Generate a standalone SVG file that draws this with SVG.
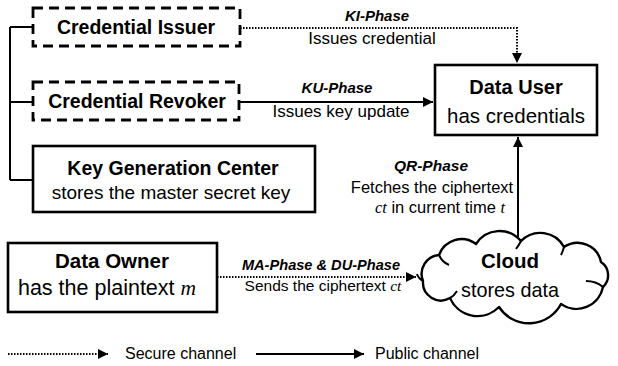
<svg xmlns="http://www.w3.org/2000/svg" width="618" height="366" viewBox="0 0 618 366">
<style>
.box{fill:#fff;stroke:#000;stroke-width:2.6}
.dbox{fill:#fff;stroke:#000;stroke-width:2.8;stroke-dasharray:10 6}
.t{font-family:"Liberation Sans",Arial,sans-serif;fill:#000;text-anchor:middle}
.b{font-weight:bold}
.ph{font-weight:bold;font-style:italic}
.m{font-family:"Liberation Serif","Times New Roman",serif;font-style:italic}
.solid{fill:none;stroke:#000;stroke-width:2}
.dot{fill:none;stroke:#000;stroke-width:2;stroke-dasharray:1.5 1.5}
</style>
<defs>
<marker id="ah" viewBox="0 0 10 10" refX="10" refY="5" markerWidth="5" markerHeight="5" orient="auto" markerUnits="strokeWidth">
<path d="M0,0 L10,5 L0,10 z" fill="#000"/>
</marker>
</defs>

<g id="connectors">
<path class="solid" d="M10,27 V180 M10,27 H33 M10,102 H33 M10,180 H33"/>
<path class="dot" d="M240,28 H517 V63" marker-end="url(#ah)"/>
<path class="solid" d="M240,102 H433" marker-end="url(#ah)"/>
<path class="solid" d="M518,237 V137" marker-end="url(#ah)"/>
<path class="dot" d="M217,277 H416" marker-end="url(#ah)"/>
</g>

<g id="credential-issuer">
<rect class="dbox" x="33" y="8" width="207" height="38"/>
<text class="t b" x="136" y="34" font-size="19.5">Credential Issuer</text>
</g>

<g id="credential-revoker">
<rect class="dbox" x="33" y="82" width="206" height="38"/>
<text class="t b" x="137" y="108" font-size="19.5">Credential Revoker</text>
</g>

<g id="key-generation-center">
<rect class="box" x="33" y="146" width="282" height="66"/>
<text class="t b" x="173" y="175" font-size="19.5">Key Generation Center</text>
<text class="t" x="171" y="199" font-size="19">stores the master secret key</text>
</g>

<g id="data-user">
<rect class="box" x="435" y="65" width="162" height="70"/>
<text class="t b" x="516" y="94" font-size="20">Data User</text>
<text class="t" x="516" y="123" font-size="20.5">has credentials</text>
</g>

<g id="data-owner">
<rect class="box" x="8" y="243" width="209" height="69"/>
<text class="t b" x="112" y="268" font-size="20.5">Data Owner</text>
<text class="t" x="107" y="295" font-size="21.5">has the plaintext <tspan class="m">m</tspan></text>
</g>

<g id="cloud">
<path fill="#fff" stroke="#000" stroke-width="2.4" stroke-linejoin="round" d="M423,281 A19,19 0 0 1 439,255 A24,24 0 0 1 476,244 A28,28 0 0 1 521,241 A27,27 0 0 1 564,247 A24,24 0 0 1 601,262 A16,16 0 0 1 603,287 A27,27 0 0 1 561,304 A36,36 0 0 1 499,307 A30,30 0 0 1 450,298 A18,18 0 0 1 423,281 Z"/>
<path fill="none" stroke="#000" stroke-width="2" d="M439,255 Q442,262 449,265 M521,241 Q519,245 516,249 M564,247 Q563,251 561,255 M586,281 Q596,281 603,287 M450,298 Q454,296 457,291 M423,281 Q418,278 417,274"/>
<text class="t b" x="510" y="268" font-size="20.5">Cloud</text>
<text class="t" x="510" y="297" font-size="19.8">stores data</text>
</g>

<g id="labels">
<text class="t ph" x="377" y="21" font-size="15">KI-Phase</text>
<text class="t" x="372" y="44" font-size="17">Issues credential</text>
<text class="t ph" x="337" y="93" font-size="15">KU-Phase</text>
<text class="t" x="341" y="117" font-size="17">Issues key update</text>
<text class="t ph" x="431" y="171" font-size="15.5">QR-Phase</text>
<text class="t" x="432" y="193" font-size="16.5">Fetches the ciphertext</text>
<text class="t" x="440" y="213" font-size="16.5"><tspan class="m">ct</tspan> in current time <tspan class="m">t</tspan></text>
<text class="t ph" x="321" y="270" font-size="14.6">MA-Phase &amp; DU-Phase</text>
<text class="t" x="323" y="291" font-size="15.5">Sends the ciphertext <tspan class="m">ct</tspan></text>
</g>

<g id="legend">
<path class="dot" d="M8,354 H108" marker-end="url(#ah)"/>
<text class="t" x="125" y="359" font-size="16" style="text-anchor:start">Secure channel</text>
<path class="solid" d="M256,354 H364" marker-end="url(#ah)"/>
<text class="t" x="375" y="359" font-size="16" style="text-anchor:start">Public channel</text>
</g>
</svg>
